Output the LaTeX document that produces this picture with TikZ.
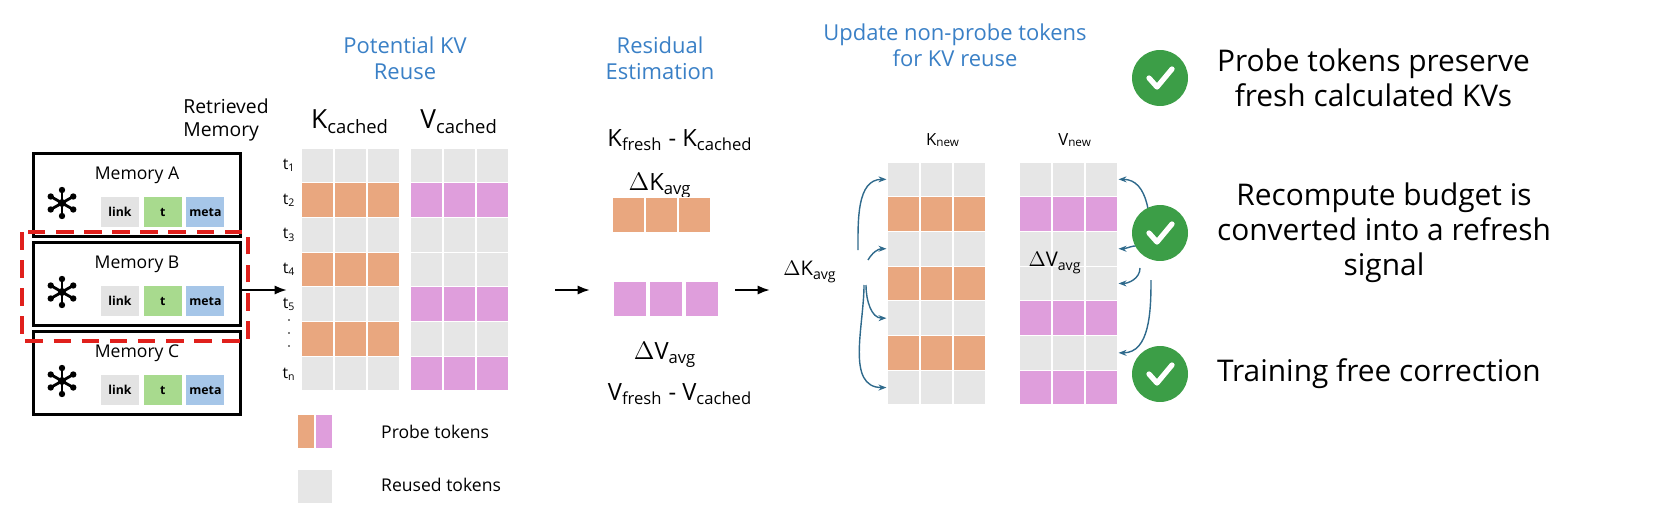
\documentclass[tikz,border=0pt]{standalone}
\usepackage{fontspec}
\setmainfont{Open Sans}
\usetikzlibrary{positioning,calc,arrows.meta}
\definecolor{myOrange}{HTML}{E9A77F}
\definecolor{myPink}{HTML}{DF9EDC}
\definecolor{myGray}{HTML}{E6E6E6}
\definecolor{myBlue}{HTML}{3A80C6}
\definecolor{myRed}{HTML}{E0201C}
\definecolor{myArrow}{HTML}{2F6A8C}
\definecolor{myGreen}{HTML}{3C9E47}
\definecolor{myLink}{HTML}{E3E3E3}
\definecolor{myT}{HTML}{A8DA8E}
\definecolor{myMeta}{HTML}{A6C6E8}

% one column of token rows: name, left x, top y, list of colours
\newcommand{\tokgrid}[4]{%
  \foreach \c [count=\r] in {#4} {
    \foreach \j in {1,2,3}
      \node[cell,fill=\c] (#1\r-\j) at ({#2+(\j-0.5)*33},{#3+(\r-0.5)*34.7}) {};
  }}

\begin{document}
\begin{tikzpicture}
[
x=0.02cm, y=-0.02cm,
cell/.style={rectangle,draw=white,line width=0.6pt,minimum width=0.66cm,minimum height=0.694cm,inner sep=0},
tag/.style={rectangle,minimum width=0.76cm,minimum height=0.6cm,inner sep=0,font=\fontsize{7}{8}\selectfont\bfseries},
mem/.style={rectangle,draw=black,line width=1.2pt,minimum width=4.14cm,minimum height=1.66cm,inner sep=0},
head/.style={align=center,text=myBlue,font=\fontsize{12.5}{15}\selectfont},
note/.style={align=center,font=\fontsize{17}{20}\selectfont},
arr/.style={-{Latex[length=2.5mm]},line width=1.3pt},
upd/.style={-{Stealth[length=1.6mm]},myArrow,line width=0.8pt},
]

% Memories
\foreach \m/\y in {A/195,B/284,C/373} {
  \node[mem] (mem\m) at (137,\y) {};
  \node[font=\fontsize{10}{12}\selectfont] at (137,\y-20) {Memory \m};
  \node[tag,fill=myLink] (link\m) at (120,\y+17) {link};
  \node[tag,fill=myT,right=0.08cm of link\m] (t\m) {t};
  \node[tag,fill=myMeta,right=0.08cm of t\m] (meta\m) {meta};
  \fill (62,\y+8) circle (4);
  \foreach \a in {30,90,150,210,270,330} {
    \draw[line width=1.6pt] (62,\y+8) -- ++(\a:13);
    \fill (62,\y+8) ++(\a:13) circle (3.2);
  }
}
\draw[myRed,dash pattern=on 10pt off 6pt,line width=1.8pt] (22,232) rectangle (248,341);
\node[align=left,font=\fontsize{11}{13}\selectfont] (retr) at (226,120) {Retrieved\\Memory};

% Cached KV
\node[head] at (405,58) {Potential KV\\Reuse};
\tokgrid{kc}{301}{148}{myGray,myOrange,myGray,myOrange,myGray,myOrange,myGray}
\tokgrid{vc}{410}{148}{myGray,myPink,myGray,myGray,myPink,myGray,myPink}
\node[font=\fontsize{15}{18}\selectfont] at (350,122) {K\textsubscript{cached}};
\node[font=\fontsize{15}{18}\selectfont] at (459,122) {V\textsubscript{cached}};
\foreach \l [count=\r] in {1,2,3,4,5} \node[font=\fontsize{9}{10}\selectfont] at (289,{148+(\r-0.5)*34.7}) {t\textsubscript{\l}};
\foreach \d in {320,333,346} \fill (289,\d) circle (0.9);
\node[font=\fontsize{9}{10}\selectfont] at (289,374) {t\textsubscript{n}};
\coordinate (inK) at (287,290);
\draw[arr] (memB.east|-inK) -- (inK);

% Legend
\fill[myOrange] (298,415) rectangle (314,448);
\fill[myPink] (316,415) rectangle (332,448);
\node[anchor=west,font=\fontsize{10}{12}\selectfont] at (375,432) {Probe tokens};
\fill[myGray] (298,470) rectangle (332,503);
\node[anchor=west,font=\fontsize{10}{12}\selectfont] at (375,485) {Reused tokens};

% Residual
\node[head] at (660,58) {Residual\\Estimation};
\node[font=\fontsize{13.5}{16}\selectfont] at (680,140) {K\textsubscript{fresh} - K\textsubscript{cached}};
\node[font=\fontsize{13.5}{16}\selectfont] at (660,186) {$\Delta$K\textsubscript{avg}};
\foreach \j in {1,2,3} {
  \node[cell,fill=myOrange] (dk\j) at ({612+(\j-0.5)*33},215) {};
  \node[cell,fill=myPink] (dv\j) at ({612+(\j-0.5)*36},299) {};
}
\node[font=\fontsize{13.5}{16}\selectfont] at (665,355) {$\Delta$V\textsubscript{avg}};
\node[font=\fontsize{13.5}{16}\selectfont] at (680,394) {V\textsubscript{fresh} - V\textsubscript{cached}};
\coordinate (a1) at (555,290); \coordinate (a2) at (590,290);
\coordinate (b1) at (735,290); \coordinate (b2) at (770,290);
\draw[arr] (a1) -- (a2);
\draw[arr] (b1) -- (b2);

% Updated KV
\node[head] at (955,45) {Update non-probe tokens\\for KV reuse};
\tokgrid{kn}{887}{162}{myGray,myOrange,myGray,myOrange,myGray,myOrange,myGray}
\tokgrid{vn}{1019}{162}{myGray,myPink,myGray,myGray,myPink,myGray,myPink}
\node[font=\fontsize{9.5}{11}\selectfont] at (943,140) {K\textsubscript{new}};
\node[font=\fontsize{9.5}{11}\selectfont] at (1075,140) {V\textsubscript{new}};
\node[font=\fontsize{11.5}{13}\selectfont] (dkn) at (810,272) {$\Delta$K\textsubscript{avg}};
\node[font=\fontsize{11.5}{13}\selectfont] (dvn) at (1055,263) {$\Delta$V\textsubscript{avg}};
\draw[upd] (858,250) to[out=90,in=180] (kn1-1.west);
\draw[upd] (868,260) to[out=60,in=180] (kn3-1.west);
\draw[upd] (866,285) to[out=-90,in=180] (kn5-1.west);
\draw[upd] (864,285) to[out=-90,in=180] (kn7-1.west);
\draw[upd] (1151,250) to[out=90,in=0] (vn1-3.east);
\draw[upd] (1140,250) to[out=90,in=0] (vn3-3.east);
\draw[upd] (1140,268) to[out=-90,in=0] (vn4-3.east);
\draw[upd] (1151,280) to[out=-90,in=0] (vn6-3.east);

% Benefits
\foreach \n/\y in {c1/78,c2/233,c3/374} {
  \node[circle,fill=myGreen,minimum size=1.12cm,inner sep=0] (\n) at (1160,\y) {};
  \draw[white,line width=3pt,line cap=round,line join=round] ($(\n)+(-11,0)$) -- ++(8,9) -- ++(15,-18);
}
\node[note,right=0.45cm of c1] {Probe tokens preserve\\fresh calculated KVs};
\node[note,right=0.45cm of c2] {Recompute budget is\\converted into a refresh\\signal};
\node[note,right=0.45cm of c3] {Training free correction};

\pgfresetboundingbox
\useasboundingbox (0,0) rectangle (1663,517);
\end{tikzpicture}
\end{document}
